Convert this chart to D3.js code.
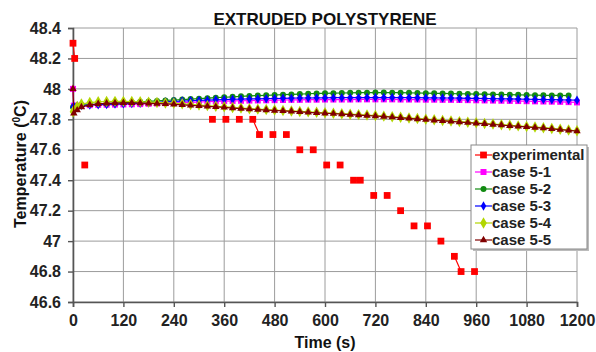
<!DOCTYPE html>
<html>
<head>
<meta charset="utf-8">
<script src="https://cdn.jsdelivr.net/npm/d3@7"></script>
<style>
  body { margin: 0; background: #fff; }
  svg { display: block; font-family: "Liberation Sans", Arial, sans-serif; }
</style>
</head>
<body>
<div id="chart"></div>
<script>
// Measured temperatures (gaps in the logger are left out)
const expTime = [0, 4, 28, 332, 364, 396, 428, 444, 476, 508, 540, 572, 604, 636, 668, 684, 716, 748, 780, 812, 844, 876, 908, 924, 956];
const expTemp = [48.3, 48.2, 47.5, 47.8, 47.8, 47.8, 47.8, 47.7, 47.7, 47.7, 47.6, 47.6, 47.5, 47.5, 47.4, 47.4, 47.3, 47.3, 47.2, 47.1, 47.1, 47.0, 46.9, 46.8, 46.8];

// Simulation output times (s)
const simTime = [0, 2, 10, 20, 40, 60, 80, 100, 120, 140, 160, 180, 200, 220, 240, 260, 280, 300,
    320, 340, 360, 380, 400, 420, 440, 460, 480, 500, 520, 540, 560, 580, 600, 620, 640, 660, 680, 700,
    720, 740, 760, 780, 800, 820, 840, 860, 880, 900, 920, 940, 960, 980, 1000, 1020, 1040, 1060, 1080,
    1100, 1120, 1140, 1160, 1180, 1200];

const case51 = [48.000, 47.890, 47.889, 47.890, 47.893, 47.895, 47.896, 47.897, 47.898, 47.899, 47.900, 47.902, 47.904, 47.906, 47.908, 47.910, 47.912, 47.914,
    47.916, 47.918, 47.920, 47.921, 47.922, 47.923, 47.924, 47.925, 47.926, 47.927, 47.928, 47.928, 47.929, 47.929, 47.930, 47.930, 47.930, 47.930, 47.931, 47.931,
    47.931, 47.931, 47.931, 47.930, 47.930, 47.930, 47.929, 47.929, 47.928, 47.928, 47.927, 47.926, 47.925, 47.924, 47.923, 47.922, 47.921, 47.920, 47.919,
    47.918, 47.917, 47.916, 47.915, 47.913, 47.911];

const case52 = [47.880, 47.885, 47.888, 47.893, 47.897, 47.900, 47.903, 47.906, 47.909, 47.912, 47.915, 47.918, 47.921, 47.924, 47.927, 47.930, 47.933, 47.936,
    47.939, 47.942, 47.945, 47.948, 47.951, 47.954, 47.956, 47.958, 47.960, 47.962, 47.964, 47.966, 47.968, 47.970, 47.971, 47.972, 47.973, 47.974, 47.975, 47.975,
    47.976, 47.976, 47.975, 47.975, 47.974, 47.973, 47.972, 47.971, 47.970, 47.969, 47.968, 47.967, 47.966, 47.965, 47.964, 47.963, 47.962, 47.961, 47.960,
    47.959, 47.958, 47.957, 47.957, 47.956, null];

const case53 = [47.880, 47.885, 47.888, 47.891, 47.894, 47.896, 47.898, 47.900, 47.902, 47.904, 47.906, 47.909, 47.912, 47.915, 47.918, 47.920, 47.922, 47.924,
    47.926, 47.928, 47.930, 47.932, 47.933, 47.934, 47.935, 47.936, 47.937, 47.938, 47.939, 47.940, 47.940, 47.941, 47.941, 47.942, 47.942, 47.942, 47.942, 47.943,
    47.943, 47.943, 47.943, 47.942, 47.942, 47.942, 47.941, 47.941, 47.940, 47.940, 47.939, 47.938, 47.938, 47.937, 47.936, 47.935, 47.934, 47.933, 47.932,
    47.931, 47.930, 47.929, 47.928, 47.927, 47.926];

const case54 = [47.850, 47.860, 47.885, 47.900, 47.910, 47.915, 47.917, 47.918, 47.918, 47.917, 47.915, 47.913, 47.911, 47.908, 47.905, 47.902, 47.898, 47.894,
    47.890, 47.886, 47.882, 47.878, 47.874, 47.870, 47.867, 47.864, 47.861, 47.858, 47.855, 47.852, 47.849, 47.846, 47.843, 47.840, 47.837, 47.834, 47.831, 47.828,
    47.825, 47.821, 47.817, 47.813, 47.809, 47.805, 47.801, 47.797, 47.793, 47.789, 47.785, 47.781, 47.777, 47.773, 47.769, 47.765, 47.761, 47.757, 47.753,
    47.749, 47.745, 47.740, 47.735, 47.730, 47.725];

const case55 = [48.000, 47.840, 47.860, 47.880, 47.895, 47.902, 47.905, 47.907, 47.908, 47.908, 47.907, 47.905, 47.903, 47.901, 47.898, 47.895, 47.892, 47.889,
    47.885, 47.882, 47.878, 47.874, 47.871, 47.867, 47.864, 47.861, 47.858, 47.855, 47.852, 47.849, 47.846, 47.843, 47.840, 47.837, 47.834, 47.831, 47.828, 47.825,
    47.822, 47.818, 47.814, 47.810, 47.806, 47.802, 47.798, 47.794, 47.790, 47.786, 47.782, 47.778, 47.774, 47.770, 47.766, 47.762, 47.758, 47.754, 47.750,
    47.746, 47.742, 47.737, 47.732, 47.727, 47.722];

const xTicks = [0, 120, 240, 360, 480, 600, 720, 840, 960, 1080, 1200];
const yTicks = [46.6, 46.8, 47, 47.2, 47.4, 47.6, 47.8, 48, 48.2, 48.4];

// Series styles
const series = [
    { name: "experimental", values: expTemp, time: expTime, color: "#ff0000", symbol: d3.symbolSquare, size: 46, maxGap: 16 },
    { name: "case 5-1", values: case51, time: simTime, color: "#ff00ff", symbol: d3.symbolSquare, size: 36 },
    { name: "case 5-2", values: case52, time: simTime, color: "#118a11", symbol: d3.symbolCircle, size: 28 },
    { name: "case 5-3", values: case53, time: simTime, color: "#0000ff", symbol: d3.symbolDiamond, size: 26 },
    { name: "case 5-4", values: case54, time: simTime, color: "#b2d600", symbol: d3.symbolDiamond, size: 38 },
    { name: "case 5-5", values: case55, time: simTime, color: "#800000", symbol: d3.symbolTriangle, size: 24 }
];

const W = 596, H = 352;
const margin = { top: 28, right: 19, bottom: 50, left: 73 };
const width = W - margin.left - margin.right;
const height = H - margin.top - margin.bottom;

const svg = d3.select("#chart").append("svg")
    .attr("width", W)
    .attr("height", H);

const g = svg.append("g")
    .attr("transform", "translate(" + margin.left + "," + margin.top + ")");

const x = d3.scaleLinear().domain([0, 1200]).range([0, width]);
const y = d3.scaleLinear().domain([46.6, 48.4]).range([height, 0]);

// Grid
g.append("g")
    .selectAll("line.hgrid")
    .data(yTicks)
    .enter().append("line")
    .attr("x1", 0).attr("x2", width)
    .attr("y1", d => y(d)).attr("y2", d => y(d))
    .style("stroke", "#9c9c9c").style("stroke-width", 1);

g.append("g")
    .selectAll("line.vgrid")
    .data(xTicks)
    .enter().append("line")
    .attr("x1", d => x(d)).attr("x2", d => x(d))
    .attr("y1", 0).attr("y2", height)
    .style("stroke", "#9c9c9c").style("stroke-width", 1);

// Axes
const xAxis = d3.axisBottom(x).tickValues(xTicks).tickSize(5).tickPadding(8).tickFormat(d3.format("d"));
const yAxis = d3.axisLeft(y).tickValues(yTicks).tickSize(5).tickPadding(7).tickFormat(d => d3.format("")(+d.toFixed(1)));

const gx = g.append("g").attr("transform", "translate(0," + height + ")").call(xAxis);
const gy = g.append("g").call(yAxis);

[gx, gy].forEach(a => {
    a.select(".domain").style("stroke", "#555").style("stroke-width", 1.6);
    a.selectAll(".tick line").style("stroke", "#555").style("stroke-width", 1.4);
    a.selectAll(".tick text")
        .style("font-size", "16px")
        .style("font-weight", "bold")
        .style("fill", "#222")
        .attr("font-family", "Liberation Sans, Arial, sans-serif");
});

// Series lines and markers
series.forEach(s => {
    const pts = s.time.map((t, i) => ({ t: t, v: s.values[i] })).filter(d => d.v != null);

    // break line where the logger skipped readings
    const segs = [];
    pts.forEach((p, i) => {
        if (i === 0 || (s.maxGap && p.t - pts[i - 1].t > s.maxGap)) segs.push([]);
        segs[segs.length - 1].push(p);
    });

    const line = d3.line().x(d => x(d.t)).y(d => y(d.v));
    g.append("g").selectAll("path")
        .data(segs)
        .enter().append("path")
        .attr("d", line)
        .style("fill", "none")
        .style("stroke", s.color)
        .style("stroke-width", 1.2);

    g.append("g").selectAll("path")
        .data(pts)
        .enter().append("path")
        .attr("transform", d => "translate(" + x(d.t) + "," + y(d.v) + ")")
        .attr("d", d3.symbol().type(s.symbol).size(s.size))
        .style("fill", s.color);
});

// Title and axis labels
svg.append("text")
    .attr("x", margin.left + width / 2)
    .attr("y", 25)
    .attr("text-anchor", "middle")
    .style("font-size", "17px")
    .style("font-weight", "bold")
    .style("fill", "#111")
    .text("EXTRUDED POLYSTYRENE");

svg.append("text")
    .attr("x", margin.left + width / 2)
    .attr("y", 348)
    .attr("text-anchor", "middle")
    .style("font-size", "16px")
    .style("font-weight", "bold")
    .style("fill", "#111")
    .text("Time (s)");

const yt = svg.append("text")
    .attr("transform", "translate(26,164) rotate(-90)")
    .attr("text-anchor", "middle")
    .style("font-size", "16px")
    .style("font-weight", "bold")
    .style("fill", "#111");
yt.append("tspan").text("Temperature (");
yt.append("tspan").attr("dy", -6).style("font-size", "10px").text("0");
yt.append("tspan").attr("dy", 6).text("C)");

// Legend
const lg = svg.append("g").attr("transform", "translate(471,145)");
lg.append("rect")
    .attr("x", 2).attr("y", 2).attr("width", 116).attr("height", 104)
    .style("fill", "#bbb");
lg.append("rect")
    .attr("width", 116).attr("height", 104)
    .style("fill", "#fff").style("stroke", "#888").style("stroke-width", 1);

const item = lg.selectAll("g.item")
    .data(series)
    .enter().append("g")
    .attr("transform", (d, i) => "translate(0," + (10 + i * 17) + ")");

item.append("line")
    .attr("x1", 4).attr("x2", 21)
    .style("stroke", d => d.color).style("stroke-width", 1.2);
item.append("path")
    .attr("transform", "translate(12.5,0)")
    .attr("d", d => d3.symbol().type(d.symbol).size(d.size)())
    .style("fill", d => d.color);
item.append("text")
    .attr("x", 21)
    .attr("dy", "0.35em")
    .style("font-size", "15px")
    .style("font-weight", "bold")
    .style("fill", "#222")
    .text(d => d.name);
</script>
</body>
</html>
